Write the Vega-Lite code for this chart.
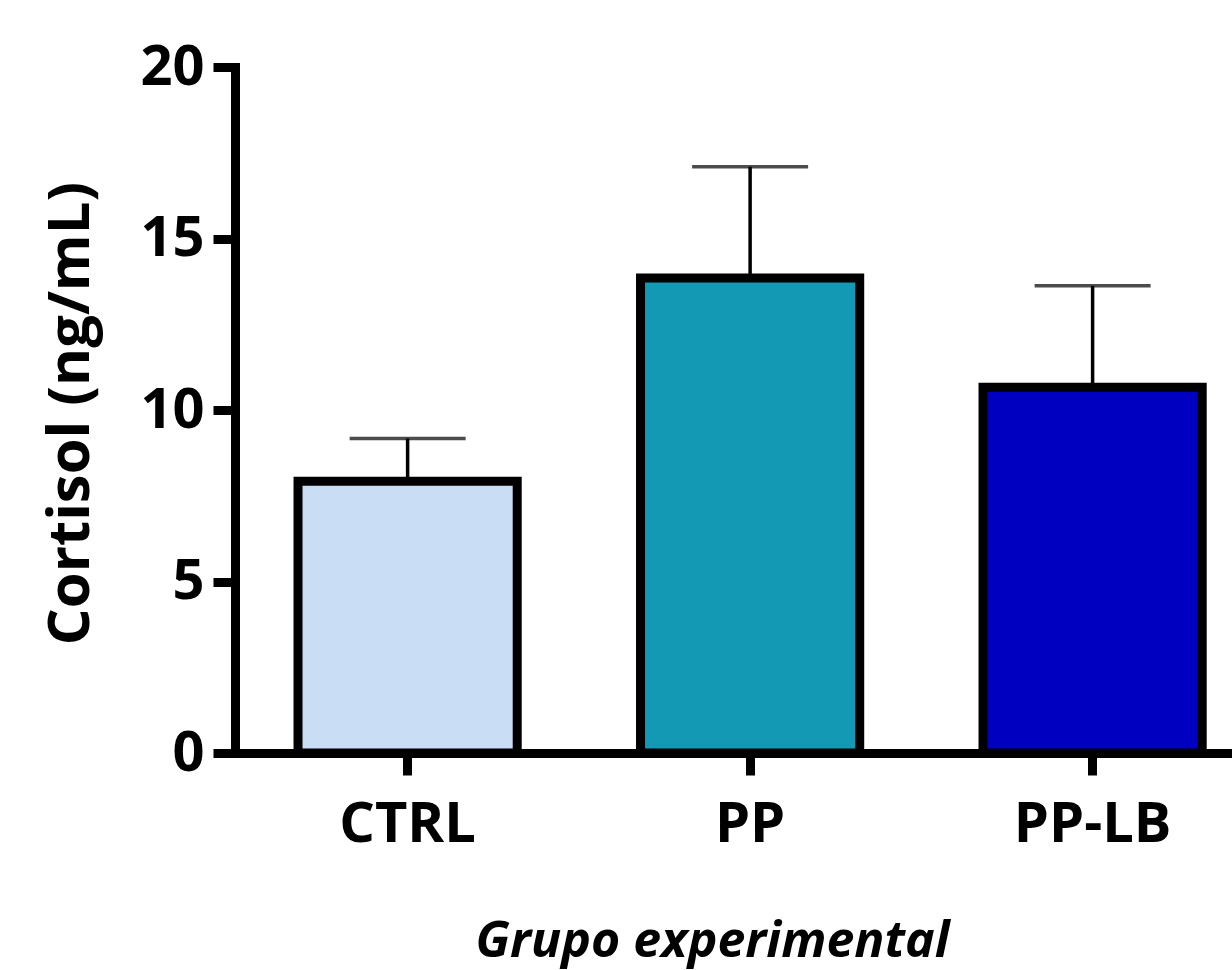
{
  "$schema": "https://vega.github.io/schema/vega-lite/v6.json",
  "autosize": "none",
  "width": 997,
  "height": 686,
  "padding": {"left": 235, "top": 67, "right": 0, "bottom": 217},
  "background": "white",
  "config": {
    "view": {"stroke": null},
    "font": "Open Sans"
  },
  "data": {
    "values": [
      {"group": "CTRL", "mean": 7.92, "upper": 9.17},
      {"group": "PP", "mean": 13.85, "upper": 17.09},
      {"group": "PP-LB", "mean": 10.66, "upper": 13.62}
    ]
  },
  "encoding": {
    "x": {
      "field": "group",
      "type": "nominal",
      "sort": ["CTRL", "PP", "PP-LB"],
      "scale": {"paddingInner": 0.36, "paddingOuter": 0.1355, "align": 0.679},
      "axis": {
        "title": "Grupo experimental",
        "titleFont": "Open Sans",
        "titleFontSize": 50,
        "titleFontWeight": "bold",
        "titleFontStyle": "italic",
        "titleColor": "black",
        "titleX": 477,
        "titleY": 203,
        "titleAlign": "center",
        "titleBaseline": "alphabetic",
        "labelAngle": 0,
        "labelFont": "Open Sans",
        "labelFontSize": 56,
        "labelFontWeight": "bold",
        "labelColor": "black",
        "labelPadding": 22,
        "domainColor": "black",
        "domainWidth": 9,
        "domainCap": "square",
        "tickColor": "black",
        "tickWidth": 9,
        "tickSize": 22,
        "grid": false
      }
    }
  },
  "layer": [
    {
      "mark": {"type": "bar", "stroke": "black", "strokeWidth": 9},
      "encoding": {
        "y": {
          "field": "mean",
          "type": "quantitative",
          "scale": {"domain": [0, 20], "nice": false},
          "axis": {
            "title": "Cortisol (ng/mL)",
            "titleFont": "Open Sans",
            "titleFontSize": 58,
            "titleFontWeight": "bold",
            "titleColor": "black",
            "titleAngle": -90,
            "titleX": -147,
            "titleY": 346,
            "titleAlign": "center",
            "titleBaseline": "alphabetic",
            "values": [0, 5, 10, 15, 20],
            "labelFont": "Open Sans",
            "labelFontSize": 56,
            "labelFontWeight": "bold",
            "labelColor": "black",
            "labelPadding": 9,
            "domainColor": "black",
            "domainWidth": 9,
            "domainCap": "square",
            "tickColor": "black",
            "tickWidth": 9,
            "tickSize": 22,
            "grid": false
          }
        },
        "fill": {
          "field": "group",
          "type": "nominal",
          "scale": {"domain": ["CTRL", "PP", "PP-LB"], "range": ["#C9DDF5", "#1399B3", "#0000C0"]},
          "legend": null
        }
      }
    },
    {
      "mark": {"type": "rule", "color": "black", "strokeWidth": 3.5},
      "encoding": {
        "y": {"field": "mean", "type": "quantitative"},
        "y2": {"field": "upper"}
      }
    },
    {
      "mark": {"type": "tick", "color": "black", "thickness": 3.5, "size": 116, "orient": "horizontal"},
      "encoding": {
        "y": {"field": "upper", "type": "quantitative"}
      }
    }
  ]
}
